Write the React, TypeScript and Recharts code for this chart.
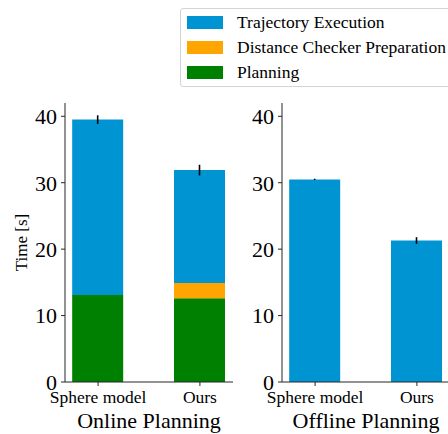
import React from 'react';
import { BarChart, Bar, XAxis, YAxis, ErrorBar } from 'recharts';

const FONT = "'Liberation Serif', 'Times New Roman', serif";
const AXIS = '#262626';

// category positions on a numeric x axis (0 and 1), like a plain bar plot
const methods = ['Sphere model', 'Ours'];
const methodPos = [0, 1];
const yTicks = [0, 10, 20, 30, 40];

// online planning (stacked)
const onlinePlanning = [13.1, 12.6];
const onlineChecker = [0, 2.3];
const onlineExecution = [26.4, 17.0];
const onlineErr = [0.65, 0.8];

// offline planning: execution only
const offlineExecution = [30.5, 21.3];
const offlineErr = [0.1, 0.5];

const series = [
  { key: 'execution', name: 'Trajectory Execution', color: '#0095d2' },
  { key: 'checker', name: 'Distance Checker Preparation', color: '#ffa500' },
  { key: 'planning', name: 'Planning', color: '#008000' },
];

const onlineData = methodPos.map((x, i) => ({
  x,
  planning: onlinePlanning[i],
  checker: onlineChecker[i],
  execution: onlineExecution[i],
  err: onlineErr[i],
}));

const offlineData = methodPos.map((x, i) => ({
  x,
  execution: offlineExecution[i],
  err: offlineErr[i],
}));

const colorOf = (key: string) => series.find((s) => s.key === key)!.color;

const tickStyle = { fill: '#000', fontFamily: FONT };

interface PanelProps {
  data: any[];
  stacks: string[];
  title: string;
  width: number;
  yWidth: number;
  rightMargin: number;
  yLabel?: string;
}

function Panel({ data, stacks, title, width, yWidth, rightMargin, yLabel }: PanelProps) {
  return (
    <BarChart
      width={width}
      height={434}
      data={data}
      margin={{ top: 103, right: rightMargin, left: 0, bottom: 0 }}
    >
      <XAxis
        dataKey="x"
        type="number"
        domain={[-0.325, 1.325]}
        ticks={methodPos}
        allowDataOverflow
        tickFormatter={(v: number) => methods[v] ?? ''}
        height={52}
        tickSize={4}
        tickMargin={5}
        interval={0}
        stroke={AXIS}
        tick={{ ...tickStyle, fontSize: 17.5 }}
        label={{
          value: title,
          position: 'insideBottom',
          offset: 6,
          style: { fontFamily: FONT, fontSize: 22, fill: '#000' },
        }}
      />
      <XAxis xAxisId="top" orientation="top" dataKey="x" type="number" domain={[-0.325, 1.325]} allowDataOverflow height={0} tick={false} tickLine={false} stroke={AXIS} />
      <YAxis
        domain={[0, 42]}
        ticks={yTicks}
        allowDataOverflow
        width={yWidth}
        tickSize={4}
        tickMargin={4}
        stroke={AXIS}
        tick={{ ...tickStyle, fontSize: 22 }}
        label={
          yLabel
            ? {
                value: yLabel,
                angle: -90,
                position: 'insideLeft',
                offset: 21,
                style: { fontFamily: FONT, fontSize: 17, fill: '#000', textAnchor: 'middle' },
              }
            : undefined
        }
      />
      <YAxis yAxisId="right" orientation="right" domain={[0, 42]} width={0} tick={false} tickLine={false} stroke={AXIS} />
      {stacks.map((key, i) => (
        <Bar
          key={key}
          dataKey={key}
          stackId="t"
          barSize={51}
          fill={colorOf(key)}
          isAnimationActive={false}
        >
          {i === stacks.length - 1 && (
            <ErrorBar dataKey="err" width={0} stroke="#000" strokeWidth={1.6} />
          )}
        </Bar>
      ))}
    </BarChart>
  );
}

function LegendBox() {
  return (
    <div
      style={{
        position: 'absolute',
        left: 180,
        top: 8,
        width: 276,
        height: 79,
        border: '1px solid #d4d4d4',
        borderRadius: 3,
        background: 'rgba(255,255,255,0.8)',
        fontFamily: FONT,
        fontSize: 17.5,
        boxSizing: 'border-box',
      }}
    >
      {series.map((s, i) => (
        <div
          key={s.key}
          style={{ position: 'absolute', left: 0, top: 13 + i * 25 - 12, height: 24, display: 'flex', alignItems: 'center', whiteSpace: 'nowrap' }}
        >
          <span style={{ display: 'inline-block', width: 36, height: 13, marginLeft: 6, background: s.color }} />
          <span style={{ marginLeft: 14 }}>{s.name}</span>
        </div>
      ))}
    </div>
  );
}

export default function App() {
  return (
    <div style={{ position: 'absolute', left: 0, top: 0, width: 448, height: 434, overflow: 'hidden', background: '#fff' }}>
      <div style={{ position: 'absolute', left: 0, top: 0 }}>
        <Panel
          data={onlineData}
          stacks={['planning', 'checker', 'execution']}
          title="Online Planning"
          width={240}
          yWidth={65}
          rightMargin={7}
          yLabel="Time [s]"
        />
      </div>
      <div style={{ position: 'absolute', left: 240, top: 0 }}>
        <Panel
          data={offlineData}
          stacks={['execution']}
          title="Offline Planning"
          width={210}
          yWidth={42}
          rightMargin={0}
        />
      </div>
      <LegendBox />
    </div>
  );
}
